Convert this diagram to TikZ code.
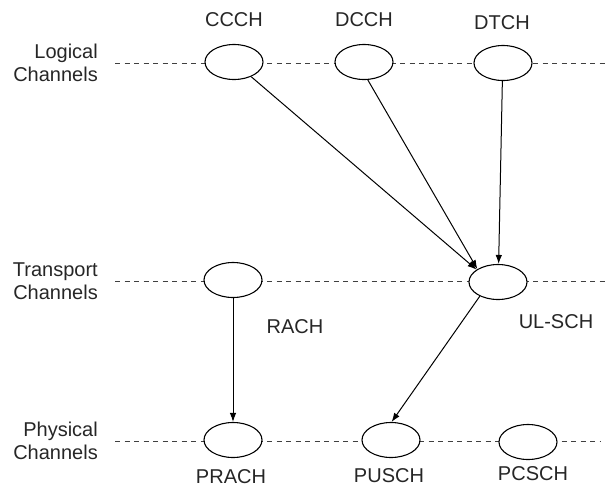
\documentclass[tikz,border=0pt]{standalone}
\usepackage{fontspec}
\setmainfont{Liberation Sans}
\usetikzlibrary{shapes.geometric,arrows.meta}
\begin{document}
\begin{tikzpicture}[x=1pt,y=-1pt,
  chan/.style={ellipse,draw=black,line width=1.1pt,fill=white,minimum width=58pt,minimum height=35pt,inner sep=0pt},
  lbl/.style={font=\fontsize{20}{23}\selectfont,text=black!85,inner sep=0pt},
  layer/.style={lbl,align=right,anchor=east},
  level/.style={dashed,dash pattern=on 5pt off 4.5pt,line width=0.9pt,draw=black!75},
  link/.style={line width=1pt,-{Latex[length=9pt,width=6.5pt]}}]
\useasboundingbox (0,0) rectangle (611,488);
% layer captions
\node[layer] (lg) at (98,63) {Logical\\Channels};
\node[layer] (tr) at (98,281) {Transport\\Channels};
\node[layer] (ph) at (98,441) {Physical\\Channels};
% dashed levels
\coordinate (l1a) at (115,63);  \coordinate (l1b) at (606,63);
\coordinate (l2a) at (115,281); \coordinate (l2b) at (606,281);
\coordinate (l3a) at (115,441); \coordinate (l3b) at (600,441);
\draw[level] (l1a) -- (l1b);
\draw[level] (l2a) -- (l2b);
\draw[level] (l3a) -- (l3b);
% channels
\node[chan] (ccch) at (234,62) {};
\node[chan] (dcch) at (364,62) {};
\node[chan] (dtch) at (503,63) {};
\node[chan] (rach) at (233,280) {};
\node[chan] (ulsch) at (498,282) {};
\node[chan] (prach) at (233,440) {};
\node[chan] (pusch) at (391,440) {};
\node[chan] (pcsch) at (528,442) {};
% names
\node[lbl] (tccch) at (234,20) {CCCH};
\node[lbl] (tdcch) at (364,20) {DCCH};
\node[lbl] (tdtch) at (502,23) {DTCH};
\node[lbl] (trach) at (295,327) {RACH};
\node[lbl] (tulsch) at (556,322) {UL-SCH};
\node[lbl] (tprach) at (231,477) {PRACH};
\node[lbl] (tpusch) at (389,476) {PUSCH};
\node[lbl] (tpcsch) at (533,474) {PCSCH};
% connectors
\draw[link] (ccch) -- (ulsch.150);
\draw[link] (dcch.-78) -- (ulsch.148);
\draw[link] (dtch.-92) -- (ulsch.88);
\draw[link] (rach) -- (prach);
\draw[link] (ulsch.-142) -- (pusch.88);
\end{tikzpicture}
\end{document}
